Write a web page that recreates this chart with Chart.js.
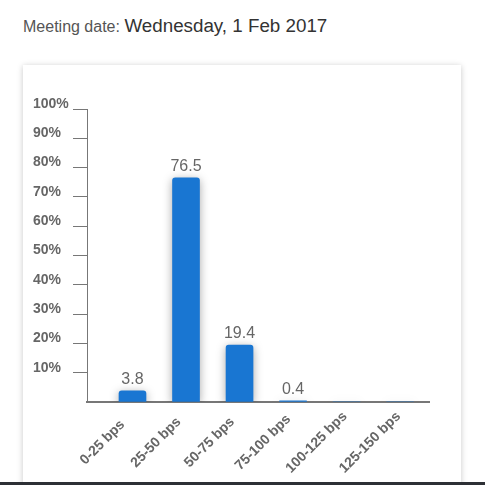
<!DOCTYPE html>
<html>
<head>
<meta charset="utf-8">
<script src="https://cdn.jsdelivr.net/npm/chart.js@4"></script>
<style>
  html, body { margin:0; padding:0; background:#fff; width:485px; height:485px; overflow:hidden; }
  body { position:relative; font-family:"Liberation Sans", Arial, sans-serif; }
  #title { position:absolute; left:23px; top:14px; line-height:24px; white-space:nowrap; }
  #title .lbl { font-size:16px; color:#555; }
  #title .date { font-size:18.8px; color:#333; }
  #card { position:absolute; left:23px; top:65px; width:438px; height:440px; background:#fff;
          box-shadow:0 1px 6px rgba(0,0,0,0.22); }
  #wrap { position:absolute; left:23px; top:65px; width:438px; height:417px; }
  #bottombar { position:absolute; left:0; top:482px; width:485px; height:3px; background:#2d3035; }
</style>
</head>
<body>
<div id="title"><span class="lbl">Meeting date: </span><span class="date">Wednesday, 1 Feb 2017</span></div>
<div id="card"></div>
<div id="wrap"><canvas id="c"></canvas></div>
<div id="bottombar"></div>
<script>
const categories = ["0-25 bps", "25-50 bps", "50-75 bps", "75-100 bps", "100-125 bps", "125-150 bps"];
const probabilities = [3.8, 76.5, 19.4, 0.4, 0, 0];
const valueLabels = ["3.8", "76.5", "19.4", "0.4", "", ""];
const yTicks = [0, 10, 20, 30, 40, 50, 60, 70, 80, 90, 100];

const FONT = '"Liberation Sans", Arial, sans-serif';

const shadowPlugin = {
  id: 'barShadow',
  beforeDatasetsDraw(chart) {
    const ctx = chart.ctx;
    ctx.save();
    ctx.shadowColor = 'rgba(0,0,0,0.35)';
    ctx.shadowBlur = 10;
    ctx.shadowOffsetX = 0;
    ctx.shadowOffsetY = 2;
  },
  afterDatasetsDraw(chart) {
    chart.ctx.restore();
  }
};

// value labels above bars + category labels rotated about their centre
const labelPlugin = {
  id: 'valueLabels',
  afterDraw(chart) {
    const ctx = chart.ctx;
    const meta = chart.getDatasetMeta(0);
    ctx.save();
    ctx.font = '16px ' + FONT;
    ctx.fillStyle = '#666';
    ctx.textAlign = 'center';
    ctx.textBaseline = 'alphabetic';
    meta.data.forEach((el, i) => {
      const t = valueLabels[i];
      if (!t) return;
      ctx.fillText(t, el.x, el.y - 7);
    });
    ctx.restore();

    const xs = chart.scales.x;
    ctx.save();
    ctx.font = 'bold 14px ' + FONT;
    ctx.fillStyle = '#666';
    ctx.textAlign = 'center';
    ctx.textBaseline = 'middle';
    categories.forEach((c, i) => {
      const px = xs.getPixelForValue(i) - 30;
      const py = xs.top + 40.5;
      ctx.save();
      ctx.translate(px, py);
      ctx.rotate(-Math.PI / 4);
      ctx.fillText(c, 0, 0);
      ctx.restore();
    });
    ctx.restore();
  }
};

new Chart(document.getElementById('c'), {
  type: 'bar',
  data: {
    datasets: [{
      data: probabilities.map((v, i) => ({ x: i, y: v })),
      backgroundColor: '#1976d2',
      barThickness: 27,
      borderRadius: { topLeft: 3, topRight: 3, bottomLeft: 0, bottomRight: 0 },
      borderSkipped: 'start'
    }]
  },
  plugins: [shadowPlugin, labelPlugin],
  options: {
    responsive: true,
    maintainAspectRatio: false,
    animation: false,
    events: [],
    layout: { padding: { left: 10, right: 32, top: 44, bottom: 0 } },
    plugins: { legend: { display: false }, tooltip: { enabled: false }, title: { display: false } },
    scales: {
      x: {
        type: 'linear',
        offset: false,
        min: -0.85,
        max: 5.54,
        grid: { display: false, drawTicks: false, offset: false },
        border: { display: true, color: '#777', width: 2 },
        ticks: { display: false, stepSize: 1 },
        afterFit(scale) { scale.height = 80; }
      },
      y: {
        min: 0,
        max: 100,
        afterBuildTicks(scale) { scale.ticks = yTicks.map(v => ({ value: v })); },
        grid: {
          drawOnChartArea: false,
          drawTicks: true,
          tickLength: 14,
          color: (c) => (c.tick && c.tick.value === 0) ? 'rgba(0,0,0,0)' : '#777'
        },
        border: { display: true, color: '#777', width: 1 },
        ticks: {
          crossAlign: 'far',
          padding: 3,
          labelOffset: -5,
          color: '#666',
          font: { family: FONT, size: 14, weight: 'bold' },
          callback: (v) => v === 0 ? '' : v + '%'
        },
        afterFit(scale) { scale.width = 54; }
      }
    }
  }
});
</script>
</body>
</html>
